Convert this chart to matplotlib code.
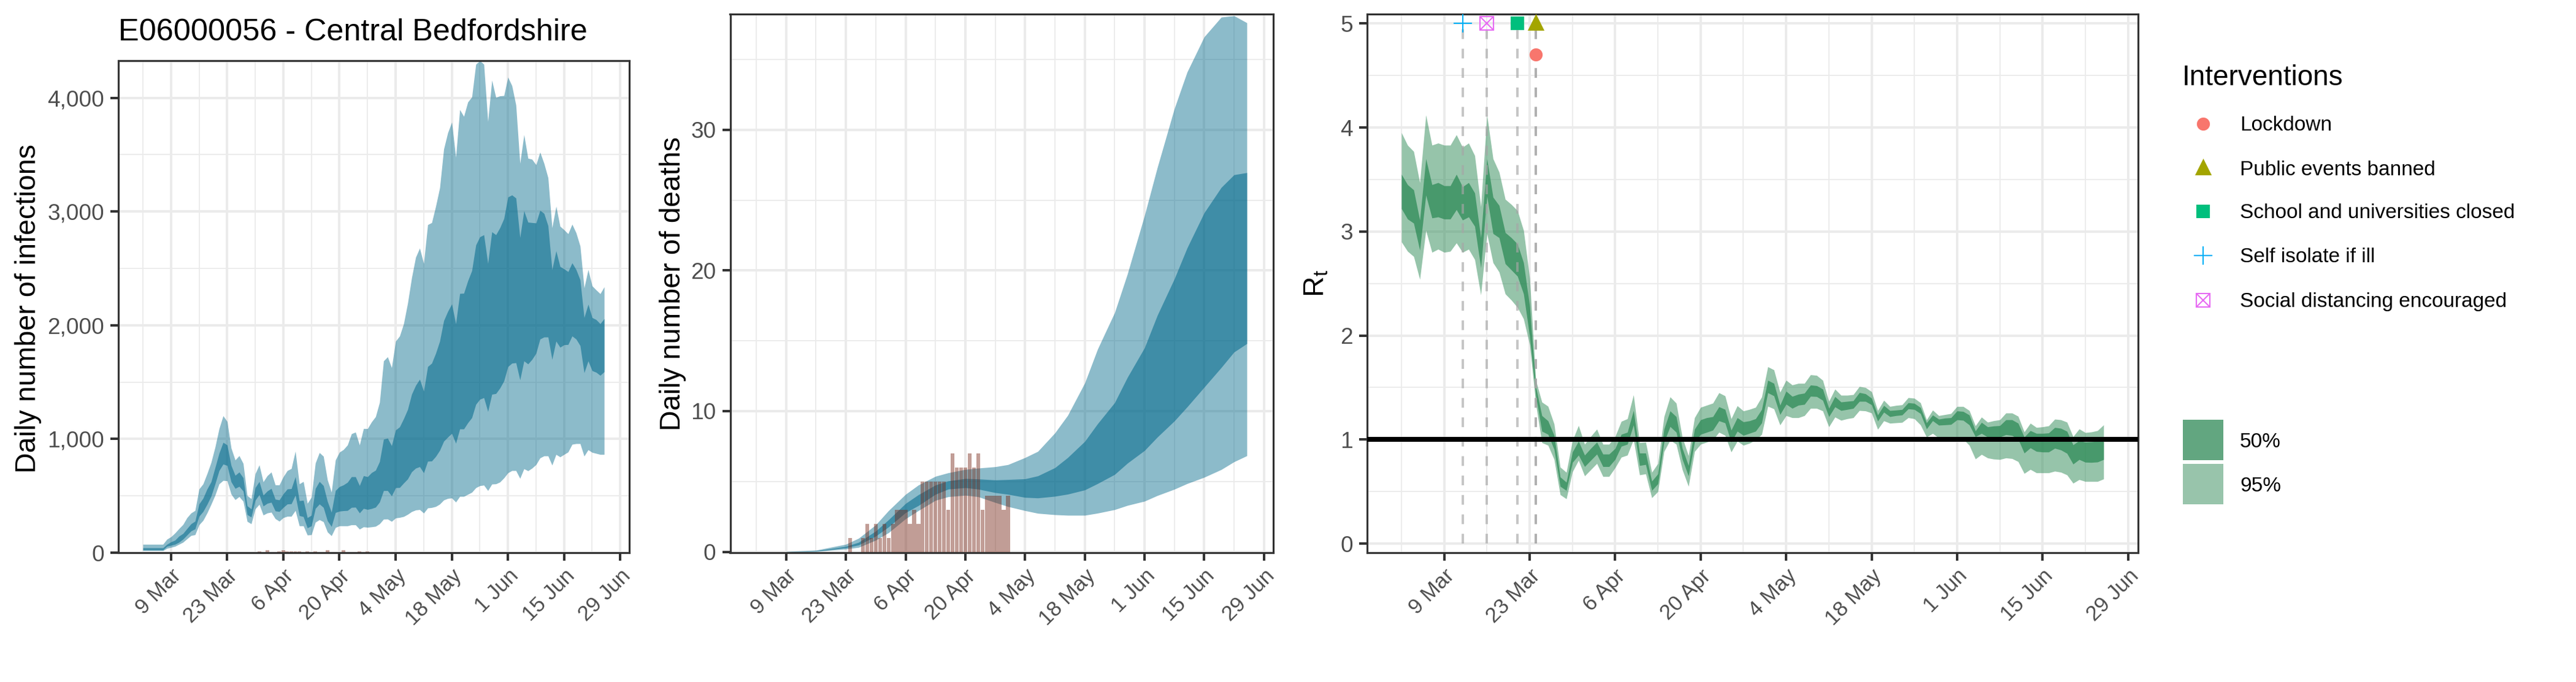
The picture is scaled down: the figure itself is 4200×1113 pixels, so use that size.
import matplotlib
matplotlib.use('Agg')
import matplotlib.pyplot as plt
import matplotlib.dates as mdates
from matplotlib.patches import Rectangle
import pandas as pd

plt.rcParams['font.family'] = ['Liberation Sans', 'DejaVu Sans']
plt.rcParams['mathtext.fontset'] = 'custom'
plt.rcParams['mathtext.rm'] = 'Liberation Sans'
plt.rcParams['mathtext.it'] = 'Liberation Sans'

W, H, DPI = 4200, 1113, 300

# daily values from 2 Mar to 25 Jun
dates = pd.date_range('2020-03-02', periods=116)

inf_up95 = [74, 74, 74, 74, 74, 74, 119, 140, 173, 212, 248, 308, 349, 371, 560, 605, 695, 794, 929, 1091,
            1204, 1154, 920, 815, 853, 785, 502, 475, 695, 772, 623, 677, 709, 596, 596, 668, 722, 740, 893, 605,
            626, 434, 488, 788, 880, 848, 641, 533, 815, 884, 907, 947, 1046, 1060, 947, 1091, 1091, 1150, 1196, 1322,
            1686, 1722, 1627, 1860, 1905, 2013, 2193, 2417, 2597, 2678, 2543, 2884, 2902, 3046, 3208, 3549, 3692, 3786, 3477, 3895,
            3836, 3962, 4007, 4294, 4327, 4294, 3791, 4154, 4003, 4016, 4019, 4181, 4106, 3935, 3423, 3675, 3468, 3459, 3411, 3522,
            3423, 3297, 2857, 3046, 2870, 2839, 2804, 2888, 2812, 2696, 2328, 2489, 2346, 2310, 2277, 2337]
inf_up50 = [43, 43, 43, 43, 43, 43, 74, 95, 110, 146, 169, 212, 254, 277, 428, 479, 560, 623, 749, 875,
            970, 947, 767, 680, 709, 659, 412, 385, 572, 626, 506, 542, 565, 470, 464, 518, 560, 563, 668, 457,
            461, 308, 329, 565, 626, 590, 452, 356, 547, 581, 596, 619, 668, 668, 590, 677, 668, 704, 725, 801,
            998, 1007, 941, 1079, 1106, 1178, 1259, 1393, 1471, 1525, 1420, 1636, 1666, 1753, 1860, 2040, 2121, 2187, 2013, 2279,
            2281, 2390, 2480, 2705, 2777, 2795, 2543, 2821, 2795, 2857, 2938, 3127, 3145, 3118, 2771, 3006, 2906, 2902, 2899, 3010,
            2983, 2875, 2489, 2654, 2516, 2495, 2471, 2548, 2489, 2399, 2067, 2184, 2067, 2049, 2013, 2058]
inf_low50 = [25, 25, 25, 25, 25, 25, 56, 65, 74, 92, 119, 155, 191, 209, 320, 362, 425, 497, 605, 722,
             779, 767, 623, 565, 583, 542, 335, 313, 461, 511, 410, 434, 443, 367, 362, 398, 428, 430, 506, 326,
             317, 218, 236, 389, 428, 398, 281, 230, 353, 365, 369, 371, 398, 400, 349, 389, 380, 388, 400, 445,
             546, 546, 499, 571, 573, 612, 648, 711, 743, 756, 702, 804, 806, 846, 900, 980, 1016, 1049, 962, 1088,
             1088, 1142, 1187, 1304, 1349, 1363, 1241, 1393, 1399, 1447, 1510, 1636, 1666, 1670, 1519, 1686, 1659, 1699, 1753, 1878,
             1896, 1896, 1699, 1860, 1806, 1828, 1830, 1905, 1878, 1821, 1582, 1686, 1600, 1586, 1559, 1591]
inf_low95 = [18, 18, 18, 18, 18, 18, 38, 47, 56, 74, 92, 122, 151, 158, 245, 284, 349, 425, 506, 605,
             635, 632, 515, 466, 493, 452, 275, 254, 385, 425, 331, 349, 356, 299, 277, 308, 320, 320, 371, 236,
             236, 155, 158, 268, 290, 272, 182, 149, 221, 236, 236, 236, 245, 245, 207, 227, 223, 227, 232, 254,
             295, 296, 275, 305, 310, 318, 337, 361, 375, 379, 348, 393, 397, 406, 427, 463, 477, 481, 445, 495,
             495, 513, 531, 571, 589, 594, 546, 603, 605, 621, 657, 702, 722, 722, 653, 738, 720, 743, 774, 833,
             851, 851, 770, 864, 842, 864, 885, 953, 959, 959, 849, 905, 882, 873, 864, 864]

# smooth curves, read every few days
death_days = pd.to_datetime(['2020-03-09', '2020-03-16', '2020-03-23', '2020-03-26', '2020-03-30', '2020-04-02',
                             '2020-04-06', '2020-04-09', '2020-04-13', '2020-04-16', '2020-04-20', '2020-04-23',
                             '2020-04-27', '2020-04-30', '2020-05-04', '2020-05-07', '2020-05-11', '2020-05-14',
                             '2020-05-18', '2020-05-21', '2020-05-25', '2020-05-28', '2020-06-01', '2020-06-04',
                             '2020-06-08', '2020-06-11', '2020-06-15', '2020-06-19', '2020-06-22', '2020-06-25'])
death_up95 = [0.02, 0.12, 0.54, 0.97, 1.92, 2.93, 4.09, 4.75, 5.37, 5.62, 5.86, 5.95, 6.05, 6.2, 6.7, 7.14, 8.45, 9.7,
              12.0, 14.4, 17.0, 19.75, 23.9, 27.3, 31.5, 34.1, 36.6, 38.0, 38.1, 37.6]
death_up50 = [0.01, 0.07, 0.39, 0.68, 1.48, 2.28, 3.44, 4.06, 4.75, 5.04, 5.21, 5.18, 5.11, 5.14, 5.19, 5.4, 5.98, 6.7,
              7.85, 9.1, 10.6, 12.4, 14.5, 16.8, 19.4, 21.6, 24.1, 25.9, 26.8, 26.95]
death_low50 = [0.01, 0.04, 0.29, 0.49, 1.12, 1.77, 2.79, 3.29, 4.09, 4.46, 4.56, 4.46, 4.21, 4.09, 3.87, 3.83, 3.95, 4.1,
               4.4, 4.85, 5.5, 6.3, 7.2, 8.15, 9.3, 10.3, 11.7, 13.1, 14.2, 14.8]
death_low95 = [0.0, 0.03, 0.2, 0.32, 0.83, 1.36, 2.35, 2.93, 3.66, 3.92, 4.02, 3.92, 3.51, 3.22, 2.93, 2.74, 2.64, 2.6,
               2.6, 2.75, 3.0, 3.3, 3.6, 4.0, 4.45, 4.85, 5.3, 5.85, 6.4, 6.83]

# reported counts, first 60 days
reported_deaths = [0, 0, 0, 0, 0, 0, 0, 0, 0, 0, 0, 0, 0, 0, 0, 0, 0, 0, 0, 0,
                   0, 0, 1, 0, 0, 1, 2, 1, 2, 1, 2, 1, 2, 3, 3, 3, 2, 3, 2, 5,
                   5, 5, 5, 5, 5, 3, 7, 6, 6, 6, 7, 6, 7, 3, 4, 4, 4, 4, 3, 4]
reported_cases = [0, 0, 0, 0, 0, 0, 0, 0, 0, 0, 0, 0, 0, 0, 0, 0, 0, 0, 0, 0,
                  0, 0, 0, 0, 0, 0, 0, 0, 0, 10, 0, 20, 0, 0, 10, 20, 13, 13, 13, 13,
                  0, 10, 0, 10, 0, 0, 22, 0, 0, 0, 20, 0, 0, 0, 10, 0, 10, 0, 0, 0]

rt_up95 = [3.95, 3.83, 3.77, 3.47, 4.12, 3.83, 3.85, 3.83, 3.83, 3.93, 3.81, 3.85, 3.73, 3.24, 4.12, 3.70, 3.57, 3.31, 3.26, 3.20,
           3.01, 2.55, 1.57, 1.36, 1.32, 1.15, .735, .685, .99, 1.135, .955, 1.03, 1.10, .955, .955, 1.03, 1.175, 1.20, 1.43, .97,
           .975, .685, .77, 1.22, 1.41, 1.35, 1.02, .845, 1.21, 1.31, 1.33, 1.35, 1.45, 1.42, 1.20, 1.325, 1.275, 1.29, 1.31, 1.41,
           1.70, 1.67, 1.455, 1.57, 1.525, 1.54, 1.54, 1.623, 1.617, 1.57, 1.367, 1.485, 1.426, 1.426, 1.432, 1.51, 1.50, 1.46, 1.279, 1.377,
           1.318, 1.328, 1.334, 1.403, 1.397, 1.354, 1.19, 1.283, 1.23, 1.24, 1.25, 1.318, 1.318, 1.279, 1.132, 1.216, 1.167, 1.181, 1.19, 1.255,
           1.255, 1.224, 1.073, 1.157, 1.116, 1.122, 1.132, 1.196, 1.19, 1.167, 1.028, 1.102, 1.067, 1.073, 1.086, 1.141]
rt_up50 = [3.55, 3.45, 3.40, 3.11, 3.70, 3.45, 3.47, 3.44, 3.44, 3.55, 3.43, 3.47, 3.37, 2.94, 3.70, 3.33, 3.25, 2.99, 2.94, 2.88,
           2.70, 2.28, 1.51, 1.23, 1.18, 1.04, .64, .59, .88, .985, .85, .915, .975, .86, .86, .915, 1.05, 1.07, 1.28, .87,
           .87, .60, .67, 1.10, 1.275, 1.22, .915, .75, 1.10, 1.19, 1.21, 1.22, 1.315, 1.29, 1.09, 1.21, 1.17, 1.18, 1.20, 1.29,
           1.57, 1.54, 1.33, 1.465, 1.415, 1.436, 1.446, 1.524, 1.518, 1.485, 1.30, 1.413, 1.361, 1.367, 1.373, 1.452, 1.44, 1.397, 1.236, 1.328,
           1.279, 1.283, 1.289, 1.354, 1.348, 1.308, 1.161, 1.236, 1.196, 1.206, 1.21, 1.275, 1.27, 1.236, 1.083, 1.165, 1.122, 1.13, 1.134, 1.19,
           1.19, 1.157, 1.024, 1.086, 1.059, 1.059, 1.063, 1.116, 1.108, 1.079, .949, .99, .975, .979, .984, .994]
rt_low50 = [3.22, 3.12, 3.08, 2.82, 3.35, 3.13, 3.14, 3.12, 3.12, 3.21, 3.11, 3.14, 3.05, 2.65, 3.34, 2.98, 2.94, 2.69, 2.63, 2.57,
            2.40, 1.99, 1.42, 1.08, 1.05, .905, .55, .51, .78, .85, .74, .80, .86, .74, .74, .81, .935, .955, 1.14, .75,
            .76, .51, .575, .975, 1.125, 1.07, .81, .65, .975, 1.05, 1.07, 1.09, 1.18, 1.16, .975, 1.08, 1.04, 1.06, 1.08, 1.16,
            1.45, 1.42, 1.24, 1.34, 1.30, 1.33, 1.338, 1.416, 1.413, 1.377, 1.22, 1.314, 1.279, 1.289, 1.30, 1.367, 1.367, 1.334, 1.177, 1.263,
            1.22, 1.23, 1.236, 1.295, 1.289, 1.25, 1.102, 1.181, 1.138, 1.141, 1.145, 1.19, 1.185, 1.141, 1.028, 1.059, 1.024, 1.024, 1.024, 1.047,
            1.039, 1.004, .87, .92, .886, .88, .88, .916, .90, .867, .764, .808, .782, .78, .784, .808]
rt_low95 = [2.90, 2.81, 2.76, 2.54, 3.01, 2.80, 2.83, 2.80, 2.81, 2.89, 2.80, 2.83, 2.73, 2.39, 2.98, 2.70, 2.61, 2.40, 2.34, 2.27,
            2.16, 1.91, 1.34, .97, .945, .81, .47, .43, .69, .80, .65, .71, .77, .645, .645, .73, .83, .85, 1.0, .66,
            .67, .44, .50, .885, .995, .955, .71, .55, .885, .955, .975, .995, 1.07, 1.04, .88, .985, .945, .965, .995, 1.05,
            1.32, 1.295, 1.14, 1.23, 1.21, 1.21, 1.23, 1.30, 1.30, 1.275, 1.122, 1.216, 1.185, 1.20, 1.21, 1.279, 1.275, 1.255, 1.098, 1.18,
            1.157, 1.161, 1.165, 1.21, 1.20, 1.141, 1.024, 1.059, 1.014, 1.02, 1.024, 1.028, 1.004, .945, .813, .857, .823, .812, .808, .823,
            .817, .788, .674, .713, .68, .68, .68, .696, .686, .66, .58, .615, .597, .597, .597, .621]

# interventions
int_names = ['Lockdown', 'Public events banned', 'School and universities closed', 'Self isolate if ill',
             'Social distancing encouraged']
int_dates = pd.to_datetime(['2020-03-24', '2020-03-24', '2020-03-21', '2020-03-12', '2020-03-16'])
int_y = [4.7, 5, 5, 5, 5]
int_colors = ['#F8766D', '#A3A500', '#00BF7D', '#00B0F6', '#E76BF3']
band_labels = ['50%', '95%']

tick_dates = pd.to_datetime(['2020-03-09', '2020-03-23', '2020-04-06', '2020-04-20', '2020-05-04', '2020-05-18',
                             '2020-06-01', '2020-06-15', '2020-06-29'])
tick_labels = ['9 Mar', '23 Mar', '6 Apr', '20 Apr', '4 May', '18 May', '1 Jun', '15 Jun', '29 Jun']
minor_dates = pd.date_range('2020-03-02', '2020-06-22', freq='14D')

BLUE = '#00688B'
GREEN = '#2E8B57'
BAR = '#772716'
TRIANGLE = [(0, 1.15), (-1, -0.85), (1, -0.85)]


def make_axes(box, start, per_day):
    # box is left, top, right, bottom in pixels
    l, t, r, b = box
    ax = fig.add_axes([l / W, 1 - b / H, (r - l) / W, (b - t) / H])
    d0 = mdates.date2num(dates[0])
    ax.set_xlim(d0 + (l - start) / per_day, d0 + (r - start) / per_day)
    ax.set_axisbelow(True)
    ax.set_xticks(tick_dates)
    ax.set_xticklabels(tick_labels, rotation=45, ha='right', rotation_mode='anchor')
    ax.set_xticks(minor_dates, minor=True)
    ax.grid(True, which='major', color='#EBEBEB', lw=0.95)
    ax.grid(True, which='minor', color='#EBEBEB', lw=0.45)
    ax.tick_params(which='minor', length=0)
    ax.tick_params(which='major', length=3.1, width=0.96, color='#333333', labelcolor='#4D4D4D')
    ax.tick_params(axis='x', pad=2, labelsize=8.3)
    ax.tick_params(axis='y', pad=2.4, labelsize=8.9)
    for s in ax.spines.values():
        s.set_color('#333333')
        s.set_linewidth(0.75)
    return ax


fig = plt.figure(figsize=(W / DPI, H / DPI), dpi=DPI)

# infections
ax1 = make_axes((192.7, 99, 1026, 902), 233, 6.54)
ax1.fill_between(dates, inf_low95, inf_up95, color=BLUE, alpha=0.45, lw=0)
ax1.fill_between(dates, inf_low50, inf_up50, color=BLUE, alpha=0.55, lw=0)
ax1.bar(dates[:60], reported_cases, width=0.9, color=BAR, alpha=0.45)
ax1.set_ylim(0, 4326)
ax1.set_yticks([0, 1000, 2000, 3000, 4000])
ax1.set_yticklabels(['0', '1,000', '2,000', '3,000', '4,000'])
ax1.set_yticks([500, 1500, 2500, 3500], minor=True)
ax1.set_title('E06000056 - Central Bedfordshire', loc='left', fontsize=12.1, pad=8)
fig.text(46 / W, 1 - 504 / H, 'Daily number of infections', rotation=90, ha='center', va='center', fontsize=11.2)

# deaths
ax2 = make_axes((1190.5, 23.4, 2076, 902), 1233.1, 6.955)
ax2.fill_between(death_days, death_low95, death_up95, color=BLUE, alpha=0.45, lw=0)
ax2.fill_between(death_days, death_low50, death_up50, color=BLUE, alpha=0.55, lw=0)
ax2.bar(dates[:60], reported_deaths, width=0.9, color=BAR, alpha=0.45, zorder=3)
ax2.set_ylim(-0.06, 38.2)
ax2.set_yticks([0, 10, 20, 30])
ax2.set_yticks([5, 15, 25, 35], minor=True)
fig.text(1097 / W, 1 - 463 / H, 'Daily number of deaths', rotation=90, ha='center', va='center', fontsize=11.2)

# Rt
ax3 = make_axes((2228.7, 23, 3486, 902), 2285, 9.955)
ax3.fill_between(dates, rt_low95, rt_up95, color=GREEN, alpha=0.5, lw=0)
ax3.fill_between(dates, rt_low50, rt_up50, color=GREEN, alpha=0.75, lw=0)
ax3.vlines(int_dates, 0, 5, color='#A6A6A6', alpha=0.65, lw=0.95, linestyles=(0, (4, 4)), zorder=3)
ax3.axhline(1, color='black', lw=1.9, zorder=4)
ax3.set_ylim(-0.088, 5.09)
ax3.set_yticks([0, 1, 2, 3, 4, 5])
ax3.set_yticks([0.5, 1.5, 2.5, 3.5, 4.5], minor=True)
fig.text(2146 / W, 1 - 463 / H, r'R$_{\mathrm{t}}$', rotation=90, ha='center', va='center', fontsize=11.2)


def draw_marker(ax, x, y, i, **kw):
    c = int_colors[i]
    if i == 0:
        ax.plot(x, y, 'o', ms=5.1, mfc=c, mec=c, mew=0, **kw)
    elif i == 1:
        ax.plot(x, y, marker=TRIANGLE, ms=7.5, mfc=c, mec=c, mew=0, ls='none', **kw)
    elif i == 2:
        ax.plot(x, y, 's', ms=5.1, mfc=c, mec=c, mew=0, **kw)
    elif i == 3:
        ax.plot(x, y, '+', ms=7.3, mec=c, mew=0.5, **kw)
    else:
        ax.plot(x, y, 's', ms=5.1, mfc='none', mec=c, mew=0.5, **kw)
        ax.plot(x, y, 'x', ms=5.1, mec=c, mew=0.5, **kw)


for i in range(len(int_names)):
    draw_marker(ax3, [int_dates[i]], [int_y[i]], i, zorder=5, clip_on=False)

# legend drawn by hand on a full figure axes
leg = fig.add_axes([0, 0, 1, 1])
leg.set_xlim(0, W)
leg.set_ylim(H, 0)
leg.axis('off')
leg.patch.set_alpha(0)
leg.text(3558, 127, 'Interventions', fontsize=11, ha='left', va='center')
row_y = [201.5, 274, 345, 417, 490]
for i, name in enumerate(int_names):
    draw_marker(leg, [3592], [row_y[i]], i)
    leg.text(3652, row_y[i] + 3, name, fontsize=8, ha='left', va='center')
swatch_colors = ['#62A680', '#98C4AB']
swatch_y = [685, 757]
for i, lab in enumerate(band_labels):
    leg.add_patch(Rectangle((3559, swatch_y[i]), 66, 66, color=swatch_colors[i], lw=0))
    leg.text(3652, swatch_y[i] + 36, lab, fontsize=8, ha='left', va='center')

fig.savefig('out.png', dpi=DPI)
